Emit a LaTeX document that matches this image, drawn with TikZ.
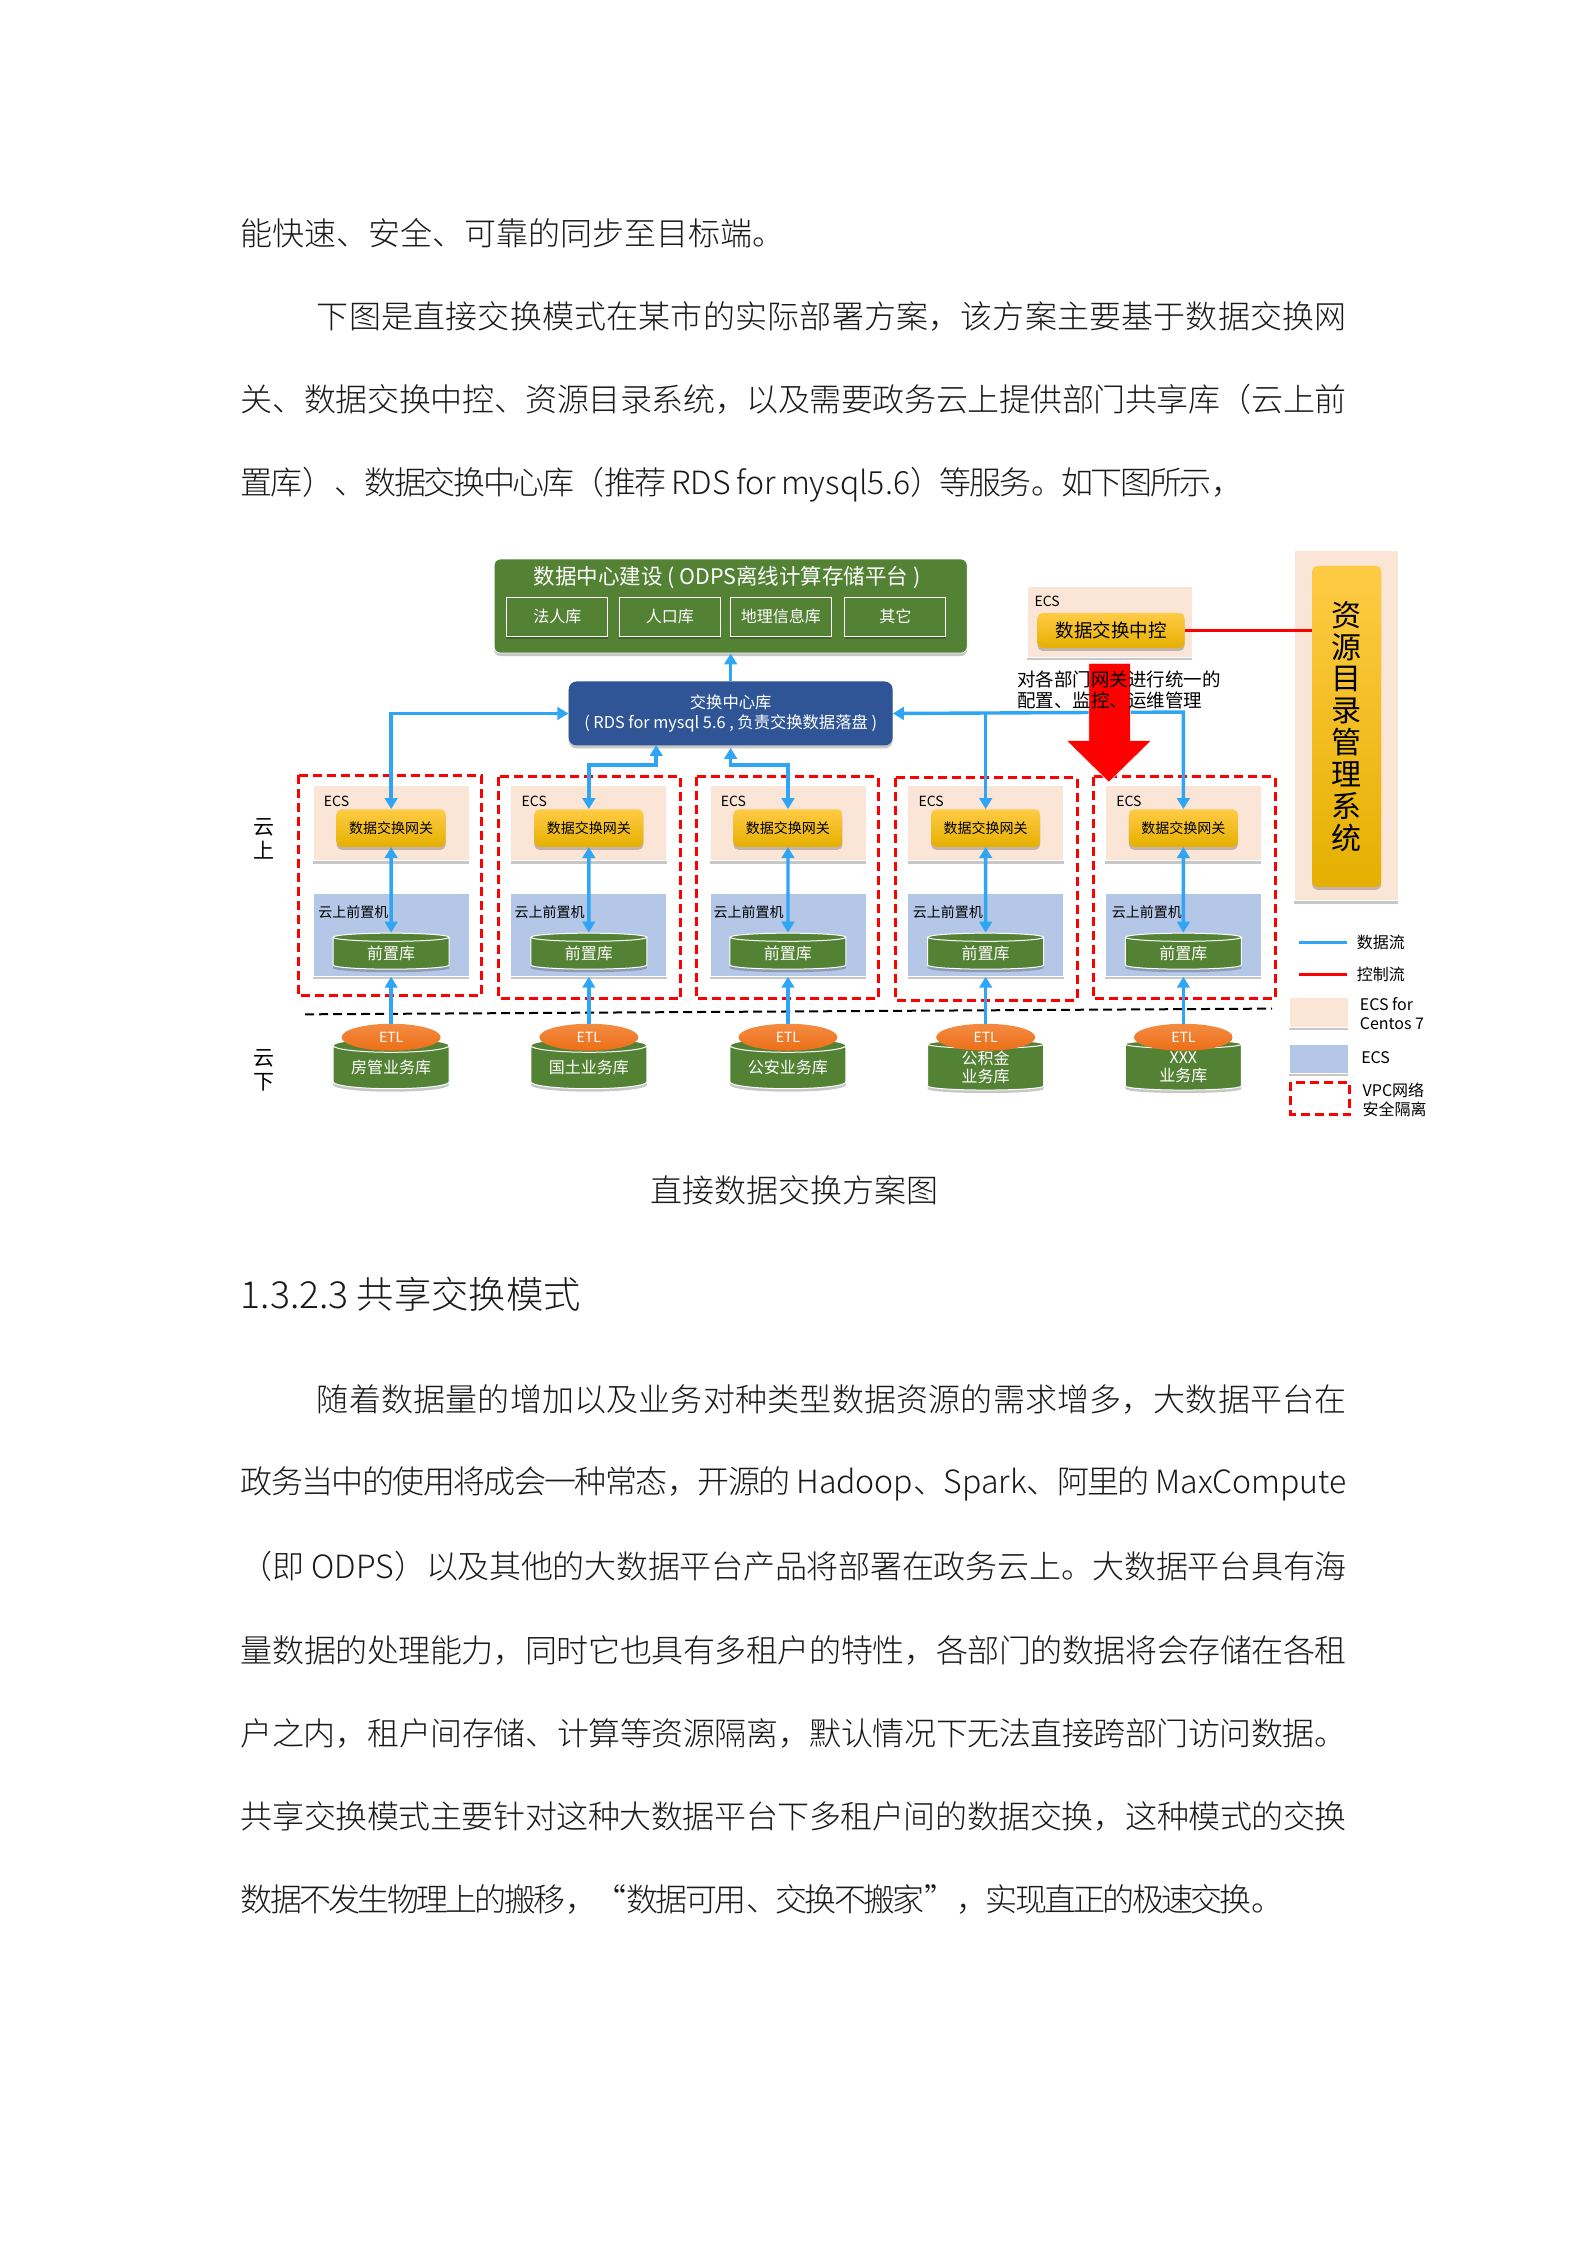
\documentclass[tikz,border=0pt]{standalone}
\usepackage{fontspec}
\setmainfont{Noto Sans CJK SC}
\newfontfamily\bodyfont{Noto Sans CJK SC Light}
\usetikzlibrary{arrows.meta,shapes.geometric,shadows,calc}
\XeTeXlinebreaklocale "zh"
\XeTeXlinebreakskip=0pt plus 2pt minus 3pt
\newcommand\fsz[2]{\fontsize{#1}{#2}\selectfont}
\newcommand\jl[1]{{\parindent=0pt\parfillskip=0pt\hyphenpenalty=10000\exhyphenpenalty=10000\emergencystretch=40pt\relax #1\par}}
\definecolor{grn}{HTML}{548235}
\definecolor{pch}{HTML}{FBE5D6}
\definecolor{lblue}{HTML}{B4C7E7}
\definecolor{dblue}{HTML}{2F5597}
\definecolor{flowc}{HTML}{2FA5F5}
\definecolor{gt}{HTML}{FFCB45}
\definecolor{gm}{HTML}{FFC000}
\definecolor{gb}{HTML}{E5B000}
\definecolor{et}{HTML}{F48B42}
\definecolor{eb}{HTML}{EC6F17}
\tikzset{
 shd/.style={drop shadow={shadow xshift=0pt,shadow yshift=-3pt,fill=black,opacity=.22}},
 bodyj/.style={anchor=west,inner sep=0,text width=1106pt,align=justify,text=black!90,font=\bodyfont\fsz{32}{38}},
 bodyn/.style={anchor=west,inner sep=0,text=black!90,font=\bodyfont\fsz{32}{38}},
 bigbox/.style={draw=white,line width=.8pt,fill=grn,rounded corners=6pt,shd,inner sep=0},
 subbox/.style={draw=white,line width=1pt,fill=grn,shd,inner sep=0,minimum width=101pt,minimum height=39pt,text=white,font=\fsz{16}{18}},
 hubbox/.style={fill=dblue,rounded corners=8pt,shd,inner sep=0,minimum width=324pt,minimum height=64pt,text=white,align=center,font=\fsz{16.3}{20}},
 peach/.style={draw=white,line width=.8pt,fill=pch,shd,inner sep=0},
 lbox/.style={draw=white,line width=.8pt,fill=lblue,shd,inner sep=0},
 gold/.style={top color=gt,middle color=gm,bottom color=gb,rounded corners=5pt,shd,inner sep=0,text=black},
 gw/.style={gold,minimum width=109pt,minimum height=37.5pt,font=\fsz{14}{16}},
 cyl/.style={cylinder,shape border rotate=90,aspect=.17,draw=white,line width=1pt,fill=grn,shd,inner sep=0,text=white,align=center,minimum width=116pt},
 etl/.style={ellipse,top color=et,bottom color=eb,inner sep=0,minimum width=99pt,minimum height=27pt,text=white,font=\fsz{14}{16}},
 flow/.style={draw=flowc,line width=3.4pt,arrows={-},>={Triangle[length=11pt,width=12.5pt]}},
 ctrl/.style={draw=red,line width=3pt},
 vpc/.style={draw=red,line width=3pt,dash pattern=on 9pt off 5pt},
 lab/.style={inner sep=0,text=black},
}
\begin{document}
\begin{tikzpicture}[x=1.4327pt,y=-1.4327pt]
\useasboundingbox (0,0) rectangle (1107,1567);
\fill[white] (0,0) rectangle (1107,1567);
% body text above
\node[bodyn] (t1) at (168,163) {能快速、安全、可靠的同步至目标端。};
\node[bodyj,text width=1030pt] (t2) at (221,221) {\jl{下图是直接交换模式在某市的实际部署方案，该方案主要基于数据交换网}};
\node[bodyj] (t3) at (168,279) {\jl{关、数据交换中控、资源目录系统，以及需要政务云上提供部门共享库（云上前}};
\node[bodyj,text width=1003pt] (t4) at (168,338.5) {\jl{置库）、数据交换中心库（推荐 RDS for mysql5.6）等服务。如下图所示，}};
% green platform
\node[bigbox,minimum width=473pt,minimum height=94pt] (dc) at (510,423) {};
\node[lab,text=white,font=\fsz{21.5}{24}] (dct) at (507.5,403) {数据中心建设 ( ODPS离线计算存储平台 )};
\node[subbox] (s1) at (389,430.5) {法人库};
\node[subbox] (s2) at (467.5,430.5) {人口库};
\node[subbox] (s3) at (545,430.5) {地理信息库};
\node[subbox] (s4) at (625,430.5) {其它};
% hub
\node[hubbox] (hub) at (510,498) {交换中心库\\( RDS for mysql 5.6 , 负责交换数据落盘 )};
% control
\node[peach,minimum width=165pt,minimum height=71pt] (ecsc) at (774.5,434) {};
\node[lab,anchor=west,font=\fsz{14}{16}] (ecsct) at (722,419.5) {ECS};
\node[gold,minimum width=147pt,minimum height=35pt,font=\fsz{18.5}{20}] (ctl) at (775.5,440) {数据交换中控};
% catalogue
\node[peach,minimum width=104pt,minimum height=350pt] (catb) at (939.5,506.5) {};
\node[gold,minimum width=69pt,minimum height=321pt,align=center,font=\fsz{30}{31.9}] (cat) at (940,507) {资\\源\\目\\录\\管\\理\\系\\统};
\draw[ctrl] (ctl.east) -- (ctl.east -| cat.west);
% columns
\foreach \i/\cx/\fl/\fr/\fa/\fb/\lx/\name in {1/273/208/336/541/695/222/房管业务库,2/411/348/475/542/697/359/国土业务库,3/550/486/613/542/697/498/公安业务库,4/688/625/752/543/698/637/{公积金\\业务库},5/826/763/890/542/697/776/{XXX\\业务库}}{
  \draw[vpc] (\fl,\fa) rectangle (\fr,\fb);
  \node[peach,minimum width=156pt,minimum height=75pt] (ecs\i) at (\cx,574.5) {};
  \node[lab,anchor=west,font=\fsz{14}{16}] (ecst\i) at (\cx-47,559) {ECS};
  \node[gw] (gw\i) at (\cx,578) {数据交换网关};
  \node[lbox,minimum width=156pt,minimum height=83pt] (fr\i) at (\cx,652.5) {};
  \node[lab,anchor=west,font=\fsz{14}{16}] (frt\i) at (\lx,636.5) {云上前置机};
  \node[cyl,minimum height=36pt,font=\fsz{16}{18}] (db\i) at (\cx,665.5) {前置库};
  \node[cyl,minimum height=50pt,font=\fsz{16}{18}] (biz\i) at (\cx,745) {\name};
  \node[etl] (etl\i) at (\cx,724) {ETL};
  \draw[flow,<->] (gw\i.south) -- (db\i.north);
  \draw[flow,->] (etl\i.north) -- (fr\i.south);
}
% black divider
\coordinate (dl) at (213,708);
\coordinate (dr) at (888,704);
\draw[black,line width=2pt,dash pattern=on 9pt off 5pt] (dl) -- (dr);
\foreach \i in {1,...,5}{\draw[flow] (etl\i.north) -- ++(0,-12);}
% data flows to hub
\coordinate (m2) at (458,534);
\coordinate (h2) at (458,520);
\coordinate (m3) at (510,534);
\coordinate (h3) at (510,522);
\coordinate (j4) at (688,497);
\coordinate (j5) at (826,497);
\draw[flow,<->] (gw1.north) |- (hub.west);
\draw[flow,<->] (gw2.north) |- (m2) -- (h2);
\draw[flow,<->] (gw3.north) |- (m3) -- (h3);
\draw[flow,<->] (gw5.north) -- (j5) -- (hub.east);
\draw[flow,->] (j4) -- (gw4.north);
\draw[flow,->] (hub.north) -- (dc.south);
% big red arrow
\draw[fill=red,draw=white,line width=.5pt] (760,463) -- (789,463) -- (789,517) -- (803.5,517) -- (774,546) -- (744.5,517) -- (760,517) -- cycle;
\node[lab,anchor=west,font=\fsz{18.5}{20}] (an1) at (710,474) {对各部门网关进行统一的};
\node[lab,anchor=west,font=\fsz{18.5}{20}] (an2) at (710,489) {配置、监控、运维管理};
% side labels
\node[lab,align=center,font=\fsz{21}{24}] (up) at (184,585.5) {云\\上};
\node[lab,align=center,font=\fsz{21}{24}] (dn) at (184,747) {云\\下};
% legend
\coordinate (lb1) at (907,658);\coordinate (lb2) at (940,658);
\draw[flow] (lb1) -- (lb2);
\node[lab,anchor=west,font=\fsz{16}{18}] (ld1) at (947,658) {数据流};
\coordinate (lr1) at (907,680);\coordinate (lr2) at (940,680);
\draw[ctrl] (lr1) -- (lr2);
\node[lab,anchor=west,font=\fsz{16}{18}] (ld2) at (947,680) {控制流};
\node[peach,minimum width=59pt,minimum height=30pt] (lp) at (920.5,706.5) {};
\node[lab,anchor=west,align=left,font=\fsz{16}{18.5}] (ld3) at (949,707.5) {ECS for\\Centos 7};
\node[lbox,minimum width=59pt,minimum height=29pt] (lq) at (920.5,739) {};
\node[lab,anchor=west,font=\fsz{16}{18}] (ld4) at (950,738) {ECS};
\draw[vpc] (901,755.5) rectangle (942,778);
\node[lab,anchor=west,align=left,font=\fsz{16}{18.5}] (ld5) at (951,767.5) {VPC网络\\安全隔离};
% caption and heading
\node[lab,text=black!90,font=\bodyfont\fsz{32}{38}] (cap) at (554.5,831) {直接数据交换方案图};
\node[lab,anchor=west,text=black!90,font=\bodyfont\fsz{37.3}{42}] (h) at (168,903.5) {1.3.2.3 共享交换模式};
% body text below
\node[bodyj,text width=1030pt] (b1) at (221,977) {\jl{随着数据量的增加以及业务对种类型数据资源的需求增多，大数据平台在}};
\node[bodyj] (b2) at (168,1036) {\jl{政务当中的使用将成会一种常态，开源的 Hadoop、Spark、阿里的 MaxCompute}};
\node[bodyj] (b3) at (168,1093) {\jl{（即 ODPS）以及其他的大数据平台产品将部署在政务云上。大数据平台具有海}};
\node[bodyj] (b4) at (168,1152) {\jl{量数据的处理能力，同时它也具有多租户的特性，各部门的数据将会存储在各租}};
\node[bodyj] (b5) at (168,1210) {\jl{户之内，租户间存储、计算等资源隔离，默认情况下无法直接跨部门访问数据。}};
\node[bodyj] (b6) at (168,1268) {\jl{共享交换模式主要针对这种大数据平台下多租户间的数据交换，这种模式的交换}};
\node[bodyj,text width=1043pt] (b7) at (168,1326) {\jl{数据不发生物理上的搬移，“数据可用、交换不搬家”，实现直正的极速交换。}};
\end{tikzpicture}
\end{document}
